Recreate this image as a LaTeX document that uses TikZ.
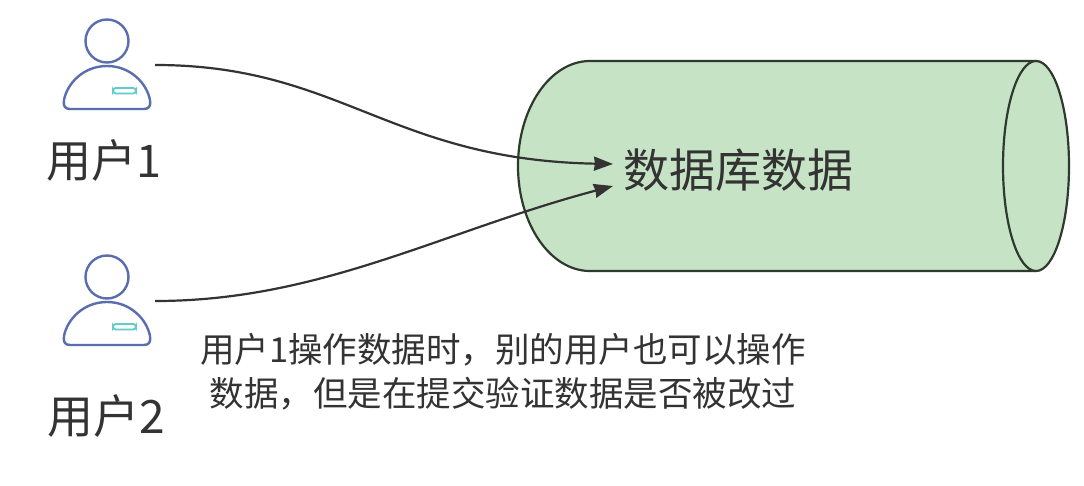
\documentclass[tikz,border=0pt]{standalone}
\usepackage{fontspec}
\usetikzlibrary{arrows.meta}
\newfontfamily\cjk{Noto Sans CJK SC}
\definecolor{ublue}{HTML}{5A6DAE}
\definecolor{uteal}{HTML}{62CCC8}
\definecolor{dbfill}{HTML}{C6E3C5}
\definecolor{dbline}{HTML}{2F3A2F}
\definecolor{txt}{HTML}{333333}
\tikzset{
 usr/.style={draw=ublue,line width=2.4pt,fill=white},
 lab/.style={inner sep=0pt,text=txt,font=\cjk},
 conn/.style={draw=txt,line width=2.2pt,-{Stealth[length=19pt,width=14pt,inset=1pt]}},
 db/.style={draw=dbline,line width=2.2pt,fill=dbfill},
 anchorbox/.style={minimum width=91pt,minimum height=90pt,inner sep=0pt}
}
\newcommand{\userglyph}[2]{%
 \draw[usr] (#1,#2-25) circle (21.5);
 \draw[usr] (#1,#2) .. controls (#1+24,#2) and (#1+40,#2+18) .. (#1+43,#2+34) .. controls (#1+44,#2+40) and (#1+42,#2+43) .. (#1+37,#2+43) -- (#1-37,#2+43) .. controls (#1-42,#2+43) and (#1-44,#2+40) .. (#1-43,#2+34) .. controls (#1-40,#2+18) and (#1-24,#2) .. (#1,#2) -- cycle;
 \draw[draw=uteal,line width=1.9pt,fill=white,rounded corners=2.8] (#1+6,#2+22) rectangle (#1+29,#2+27.5);
}
\begin{document}
\begin{tikzpicture}[x=1pt,y=-1pt]
\useasboundingbox[fill=white] (0,0) rectangle (1084,486);
% database body
\draw[db] (1036,61) -- (590,61) arc[start angle=270,end angle=90,x radius=72,y radius=105] -- (1036,271);
\draw[db] (1036,166) ellipse [x radius=33,y radius=105];
% users
\userglyph{107}{66}
\userglyph{107}{302}
\node[anchorbox] (user1) at (109.5,65) {};
\node[anchorbox] (user2) at (109.5,301) {};
% labels
\node[lab,font=\cjk\fontsize{46}{50}\selectfont] (dblabel) at (738.5,170) {数据库数据};
\coordinate (in1) at (613,164);
\coordinate (in2) at (613,186);
\node[lab,font=\cjk\fontsize{45}{50}\selectfont] (name1) at (104,160) {用户1};
\node[lab,font=\cjk\fontsize{46}{50}\selectfont] (name2) at (106.5,416) {用户2};
\node[lab,font=\cjk\fontsize{34.5}{44}\selectfont,align=center] (note) at (503,372) {用户1操作数据时，别的用户也可以操作\\数据，但是在提交验证数据是否被改过};
% connectors
\draw[conn] (user1.east) .. controls (340,65) and (390,160) .. (in1);
\draw[conn] (user2.east) .. controls (320,301) and (440,232) .. (in2);
\end{tikzpicture}
\end{document}
